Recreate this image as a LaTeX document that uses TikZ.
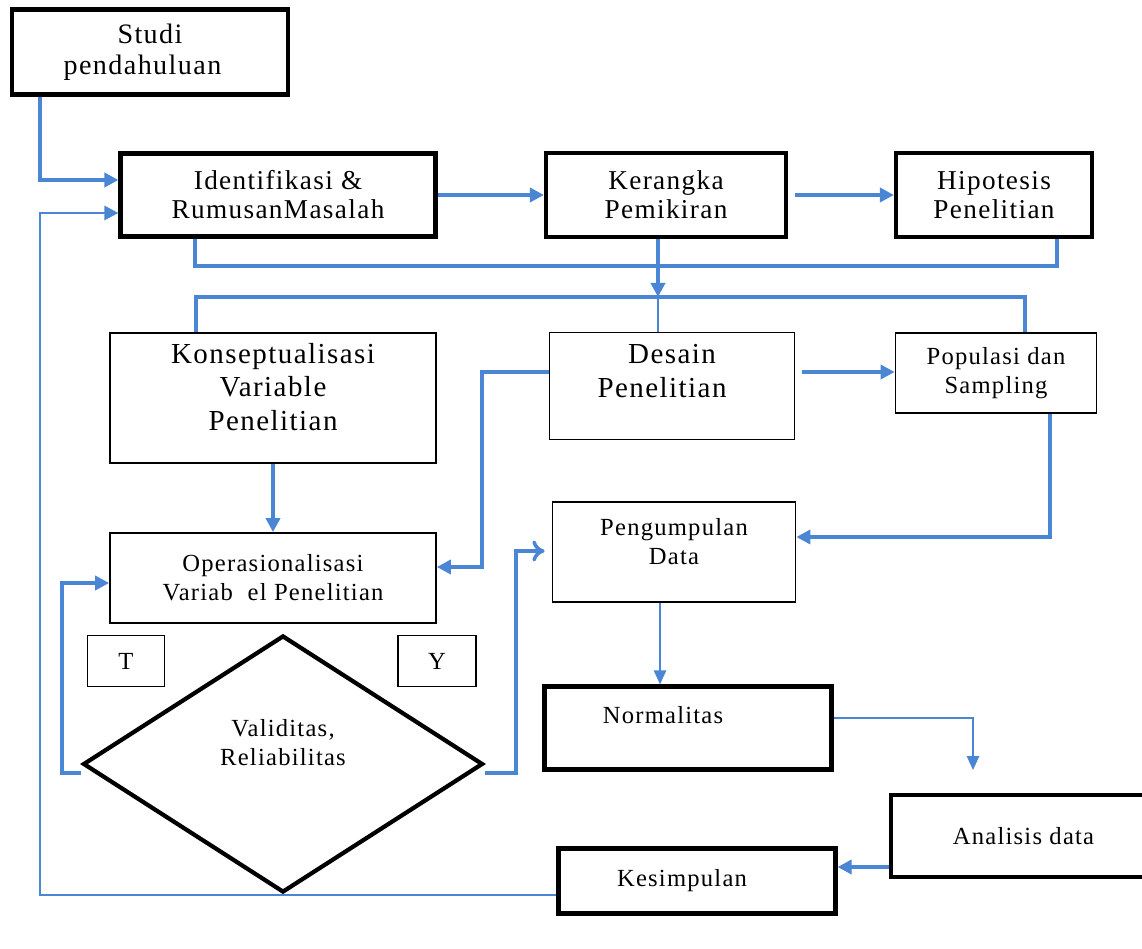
\documentclass[tikz,border=0pt]{standalone}
\usepackage{fontspec}
\setmainfont{Liberation Serif}[LetterSpace=5]
\usepackage{tikz}
\usetikzlibrary{calc,arrows,arrows.meta,shapes.geometric}
\definecolor{flowblue}{RGB}{74,134,212}
\newcommand{\boxtext}{\fontsize{14}{16.5}\selectfont}
\newcommand{\topboxtext}{\fontsize{15.5}{16.5}\selectfont}
\newcommand{\bigboxtext}{\fontsize{16.5}{19}\selectfont}

\begin{document}
\begin{tikzpicture}[x=0.02cm, y=-0.02cm,
    thickbox/.style={draw, line width=2.4pt, align=center, font=\boxtext, inner sep=0pt},
    thinbox/.style={draw, line width=1pt, align=center, font=\boxtext, inner sep=0pt},
    flow/.style={draw=flowblue, line width=2pt, -{Triangle[length=8pt,width=8pt]}},
    thinflow/.style={draw=flowblue, line width=1pt, -{Triangle[length=8pt,width=7pt]}}]
            \useasboundingbox (0,0) rectangle (1142,949);
            \clip (0,0) rectangle (1142,949);
            % top row
            \node[thickbox, font=\fontsize{16}{17.5}\selectfont, minimum width=5.52cm, minimum height=1.7cm] (studi) at (150,52) {Studi\\pendahuluan\hspace*{0.3cm}};
            \node[thickbox, font=\topboxtext, minimum width=6.3cm, minimum height=1.66cm] (ident) at (278,195) {Identifikasi \&\\RumusanMasalah};
            \node[thickbox, font=\topboxtext, minimum width=4.8cm, minimum height=1.68cm] (kerangka) at (666,195) {Kerangka\\Pemikiran};
            \node[thickbox, font=\topboxtext, minimum width=3.92cm, minimum height=1.68cm] (hipotesis) at (994,195) {Hipotesis\\Penelitian};
            % middle row
            \node[thinbox, font=\bigboxtext, text depth=13pt, minimum width=6.52cm, minimum height=2.6cm] (konsep) at (273,398) {Konseptualisasi\\Variable\\Penelitian};
            \node[thinbox, font=\bigboxtext, text depth=17pt, minimum width=4.9cm, minimum height=2.14cm] (desain) at (672,386) {Desain\\Penelitian\hspace*{0.4cm}};
            \node[thinbox, minimum width=4.02cm, minimum height=1.6cm] (populasi) at (996,373) {Populasi dan\\Sampling};
            \node[thinbox, minimum width=6.52cm, minimum height=1.8cm] (oper) at (273,578) {Operasionalisasi\\Variab\ \ el Penelitian};
            \node[thinbox, text depth=12pt, minimum width=4.86cm, minimum height=2cm] (kumpul) at (674,552) {Pengumpulan\\Data};
            % decision
            \node[thinbox, line width=0.9pt, minimum width=1.54cm, minimum height=1.02cm] (tidak) at (126,661) {T};
            \node[thinbox, line width=0.9pt, minimum width=1.56cm, minimum height=1.02cm] (ya) at (437,661) {Y};
            \node[draw, diamond, line width=2.4pt, minimum width=8cm, minimum height=5.14cm, inner sep=0pt] (valid) at (283,764) {};
            \node[font=\boxtext, align=center] (validtext) at (283,743) {Validitas,\\Reliabilitas};
            % bottom
            \node[thickbox, text depth=15pt, minimum width=5.74cm, minimum height=1.66cm] (normal) at (688,728) {Normalitas\hspace*{1cm}};
            \node[thickbox, minimum width=5.6cm, minimum height=1.64cm] (analisis) at (1031,836) {Analisis data\hspace*{0.3cm}};
            \node[thickbox, minimum width=5.54cm, minimum height=1.3cm] (simpul) at (697,881) {Kesimpulan\hspace*{0.6cm}};

            % connectors
            \coordinate (bus) at (658,297);
            \draw[flow] (40,0 |- studi.south) |- (ident.west |- 0,180);
            \draw[flow, line width=1.6pt] (simpul.west |- 0,895) -- (40,895) |- (ident.west |- 0,213);
            \draw[flow] (ident.east) -- (kerangka.west);
            \draw[flow, shorten <=4pt] (kerangka.east) -- (hipotesis.west);
            \draw[flow, -] (195,0 |- ident.south) -- (195,266) -- (1057,266) -- (1057,0 |- hipotesis.south);
            \draw[flow] (658,0 |- kerangka.south) -- (bus);
            \draw[flow, -] (196,0 |- konsep.north) -- (196,297) -- (1025,297) -- (1025,0 |- populasi.north);
            \draw[flow, -, line width=1pt] (bus) -- (658,0 |- desain.north);
            \draw[flow] (desain.west |- 0,372) -| (482,567) -- (oper.east |- 0,567);
            \draw[flow, shorten <=4pt] (desain.east |- 0,372) -- (populasi.west |- 0,372);
            \draw[flow] (1050,0 |- populasi.south) |- (kumpul.east |- 0,537);
            \draw[flow] (konsep.south) -- (oper.north);
            \draw[flow] (valid.west |- 0,773) -| (62,583) -- (oper.west |- 0,583);
            \draw[flow, -{To[length=7pt,width=12pt]}, shorten >=4pt] (valid.east |- 0,773) -| (516,551) -- (kumpul.west |- 0,551);
            \draw[thinflow] (660,0 |- kumpul.south) -- (660,0 |- normal.north);
            \draw[thinflow, shorten >=13pt] (normal.east |- 0,718) -| (973,0 |- analisis.north);
            \draw[flow] (analisis.west |- 0,867) -- (simpul.east |- 0,867);
        \end{tikzpicture}
\end{document}
